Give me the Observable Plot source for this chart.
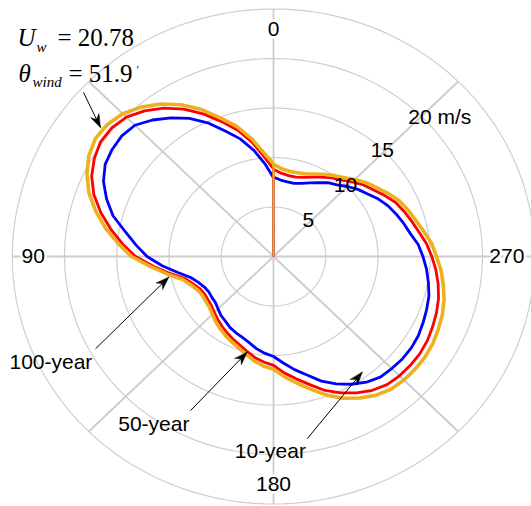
<!DOCTYPE html>
<html><head><meta charset="utf-8">
<script src="https://cdn.jsdelivr.net/npm/d3@7"></script>
<script src="https://cdn.jsdelivr.net/npm/@observablehq/plot@0.6"></script>
<style>body{margin:0;background:#fff}#chart{width:531px;height:506px;overflow:hidden}</style>
</head><body><div id="chart"></div>
<script>
// angle in degrees, counter-clockwise from top (0 top, 90 left, 180 bottom, 270 right)
const angles = [0,0.2,5,10,15,20,25,30,35,40,45,50,55,60,65,70,75,80,85,90,95,100,105,110,115,120,125,130,135,140,145,150,155,160,165,170,175,180,185,190,195,200,205,210,215,220,225,230,235,240,245,250,255,260,265,270,275,280,285,290,295,300,305,310,315,320,325,330,335,340,345,350,355,359.8,360];
// wind speed (m/s)
const r100 = [0,9.4,10.5,12.1,13.6,14.9,16.4,17.7,18.8,19.7,20.4,20.75,20.8,20.4,19.7,18.8,17.6,16.3,14.9,13.6,11.8,10.3,9.0,8.4,8.0,7.85,7.9,8.0,8.25,8.6,8.9,9.2,9.5,9.8,10.2,10.7,11.1,11.4,12.2,13.0,13.9,14.9,15.8,16.5,17.1,17.5,17.65,17.7,17.7,17.6,17.4,17.2,16.9,16.5,16.1,15.6,15.2,14.6,14.1,13.7,13.3,12.7,12.1,11.6,11.0,10.4,10.0,9.6,9.2,8.9,8.75,8.75,8.9,9.3,0];
const r50 = [0,8.9,10.1,11.7,13.2,14.5,15.9,17.2,18.3,19.2,19.9,20.2,20.2,19.8,19.2,18.3,17.1,15.8,14.5,13.2,11.5,10.0,8.7,8.15,7.75,7.6,7.65,7.75,8.0,8.3,8.6,8.9,9.2,9.5,9.9,10.35,10.7,11.0,11.8,12.55,13.4,14.4,15.2,15.9,16.5,16.9,17.05,17.1,17.1,17.0,16.8,16.6,16.35,16.0,15.6,15.15,14.7,14.15,13.7,13.3,12.9,12.3,11.7,11.25,10.65,10.1,9.7,9.25,8.85,8.5,8.3,8.3,8.45,8.8,0];
const r10 = [0,8.0,9.4,10.9,12.3,13.5,14.9,16.1,17.1,18.0,18.75,18.95,18.85,18.6,17.95,17.0,15.9,14.4,13.2,12.1,10.7,9.3,8.2,7.65,7.3,7.15,7.2,7.25,7.5,7.8,8.0,8.3,8.5,8.7,9.0,9.45,9.8,10.1,10.8,11.6,12.4,13.4,14.2,14.9,15.5,15.9,16.0,16.1,16.1,16.0,15.8,15.6,15.4,15.05,14.7,14.3,13.9,13.3,12.9,12.5,12.1,11.6,11.0,10.55,10.0,9.45,9.1,8.6,8.2,7.85,7.65,7.65,7.75,8.0,0];
const seriesNames = ["10-year","50-year","100-year"];
const seriesColors = ["#0000FF","#FF0000","#EDB120"];

const ringValues = [5,10,15,20,25];
const ringLabels = ["5","10","15","20 m/s"];
const spokeAngles = [0,45,90,135,180,225,270,315];
const angleTicks = [0,90,180,270];
const angleTickLabels = ["0","90","180","270"];

// annotations (data units)
const annoLabels = ["100-year","50-year","10-year"];
const annoLabelX = [-21.3,-11.45,-0.3];
const annoLabelY = [-10.64,-16.9,-19.7];
const arrowTailX = [-17.03,-7.94,3.22,-18.18];
const arrowTailY = [-9.32,-15.56,-18.41,16.57];
const arrowHeadX = [-10.02,-2.52,8.49,-16.56];
const arrowHeadY = [-2.09,-9.67,-11.69,13.03];
const windSpeed = "20.78";
const windAngle = "51.9";

// layout
const W = 531, H = 506, cx = 273, cy = 256, sx = 10.45, sy = 9.9;
const rad = d => d * Math.PI / 180;
const toXY = (t, r) => ({x: -r * Math.sin(rad(t)), y: r * Math.cos(rad(t))});

const rings = ringValues.flatMap(rv => d3.range(0, 361, 2).map(t => ({ring: rv, ...toXY(t, rv)})));
const spokes = spokeAngles.map(t => toXY(t, 25));
const seriesData = [r10, r50, r100].map((rs, i) => angles.map((t, j) => ({series: seriesNames[i], r: rs[j], ...toXY(t, rs[j])})));
// radial segments where the curve drops to zero
const spikeData = seriesData.map(rows => rows.flatMap((d, j) => {
  if (d.r !== 0) return [];
  const nb = rows[j + 1] && rows[j + 1].r > 0 ? rows[j + 1] : rows[j - 1];
  return nb ? [{x1: d.x, y1: d.y, x2: nb.x, y2: nb.y}] : [];
}));
const angleLabelRows = angleTicks.map((t, i) => ({label: angleTickLabels[i], t, ...toXY(t, 23)}));
const ringLabelRows = ringLabels.map((l, i) => ({label: l, ...toXY(315, ringValues[i])}));
const arrows = arrowTailX.map((_, i) => ({x1: arrowTailX[i], y1: arrowTailY[i], x2: arrowHeadX[i], y2: arrowHeadY[i]}));
const heads = arrows.flatMap((a, id) => {
  const px = (a.x2 - a.x1) * sx, py = -(a.y2 - a.y1) * sy;
  const len = Math.hypot(px, py), ux = px / len, uy = py / len, nx = -uy, ny = ux;
  const L = 13, Wd = 4.5, N = 9;
  return [[0,0],[-L*ux+Wd*nx,-L*uy+Wd*ny],[-N*ux,-N*uy],[-L*ux-Wd*nx,-L*uy-Wd*ny]]
    .map(([ox, oy]) => ({id, x: a.x2 + ox / sx, y: a.y2 - oy / sy}));
});
const annoRows = annoLabels.map((l, i) => ({label: l, x: annoLabelX[i], y: annoLabelY[i]}));

const sans = "Liberation Sans, Arial, sans-serif";
const serif = "Liberation Serif, Times New Roman, serif";
const mathText = (s, dx, dy, size, italic) => Plot.text([s], {text: d => d, frameAnchor: "top-left", dx, dy, textAnchor: "start", lineAnchor: "bottom", fontFamily: serif, fontStyle: italic ? "italic" : "normal", fontSize: size, fill: "black"});

const chart = Plot.plot({
  width: W, height: H, margin: 0,
  x: {domain: [-25, 25], range: [cx - 25 * sx, cx + 25 * sx], axis: null},
  y: {domain: [-25, 25], range: [cy + 25 * sy, cy - 25 * sy], axis: null},
  style: {background: "white", overflow: "hidden"},
  marks: [
    Plot.line(rings, {x: "x", y: "y", z: "ring", stroke: "#cfcfcf", strokeWidth: 1.2}),
    Plot.link(spokes, {x1: () => 0, y1: () => 0, x2: "x", y2: "y", stroke: "#cccccc", strokeWidth: 1.8}),
    ...seriesData.flatMap((d, i) => [
      Plot.line(d.filter(p => p.r > 0), {x: "x", y: "y", stroke: seriesColors[i], strokeWidth: i === 2 ? 3.6 : 2.8, strokeLinejoin: "round"}),
      Plot.link(spikeData[i], {x1: "x1", y1: "y1", x2: "x2", y2: "y2", stroke: seriesColors[i], strokeWidth: 1.6})
    ]),
    Plot.text(angleLabelRows.filter(d => d.t !== 270), {x: "x", y: "y", text: "label", fontFamily: sans, fontSize: 21, fill: "black", stroke: "white", strokeWidth: 5, paintOrder: "stroke"}),
    Plot.text(angleLabelRows.filter(d => d.t === 270), {x: "x", y: "y", text: "label", dx: -7, fontFamily: sans, fontSize: 21, fill: "black", stroke: "white", strokeWidth: 5, paintOrder: "stroke"}),
    Plot.text(ringLabelRows.slice(0, 3), {x: "x", y: "y", text: "label", dx: -2, dy: -1, fontFamily: sans, fontSize: 21, fill: "black"}),
    Plot.text(ringLabelRows.slice(3), {x: "x", y: "y", text: "label", dx: -13, dy: 1, textAnchor: "start", fontFamily: sans, fontSize: 21, fill: "black"}),
    Plot.link(arrows, {x1: "x1", y1: "y1", x2: "x2", y2: "y2", stroke: "black", strokeWidth: 1}),
    Plot.line(heads, {x: "x", y: "y", z: "id", fill: "black", stroke: "black", strokeWidth: 0.5, curve: "linear-closed"}),
    Plot.text(annoRows, {x: "x", y: "y", text: "label", fontFamily: sans, fontSize: 21, fill: "black"}),
    mathText("U", 17, 45, 25, true),
    mathText("w", 36, 51, 15, true),
    mathText("= " + windSpeed, 57, 45, 25, false),
    mathText("\u03B8", 18, 81, 25, true),
    mathText("wind", 32, 86, 15, true),
    mathText("= " + windAngle, 68, 81, 25, false),
    Plot.text(["'"], {text: d => d, frameAnchor: "top-left", dx: 136, dy: 73, textAnchor: "start", lineAnchor: "bottom", fontFamily: serif, fontSize: 13, fill: "#333"})
  ]
});
document.getElementById("chart").appendChild(chart);
</script>
</body></html>
